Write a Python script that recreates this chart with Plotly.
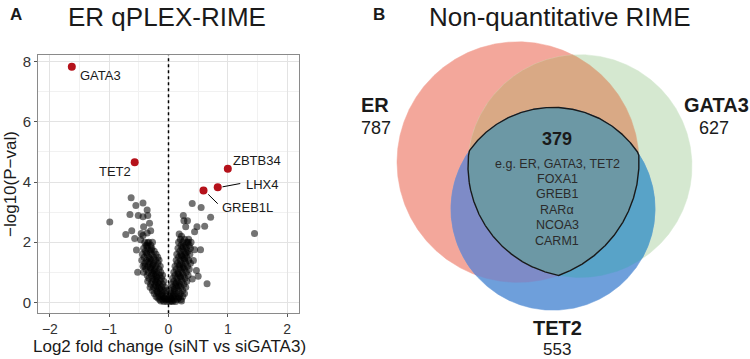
import math
import plotly.graph_objects as go

# ---------------- Panel A data: volcano plot ----------------
hit_genes = ["GATA3", "TET2", "ZBTB34", "LHX4", "GREB1L"]
hit_lfc = [-1.63, -0.57, 1.00, 0.83, 0.59]
hit_logp = [7.83, 4.66, 4.44, 3.83, 3.72]

other_points = [
    # outer left
    (-0.63, 3.48), (-0.55, 3.22), (-0.43, 3.30), (-0.36, 3.07), (-0.99, 2.67), (-0.65, 2.92),
    (-0.51, 2.89), (-0.43, 2.85), (-0.35, 2.89), (-0.32, 2.63), (-0.42, 2.51), (-0.30, 2.38),
    (-0.36, 2.31), (-0.62, 2.38), (-0.72, 2.26), (-0.46, 2.29), (-0.43, 2.22), (-0.57, 2.12),
    (-0.47, 2.08), (-0.35, 1.98), (-0.36, 1.89), (-0.54, 1.74), (-0.52, 1.00), (-0.40, 1.20),
    # outer right
    (0.40, 3.29), (0.55, 3.15), (0.71, 2.83), (0.25, 2.89), (0.32, 2.71), (0.26, 2.71),
    (0.61, 2.53), (0.48, 2.51), (1.45, 2.29), (0.29, 2.51), (0.18, 2.27), (0.44, 2.35),
    (0.44, 1.75), (0.54, 1.75), (0.47, 1.06), (0.50, 0.87), (0.65, 0.62), (0.40, 0.78),
    (0.42, 1.39), (0.22, 2.20), (0.33, 2.00),
    # dense left arm
    (-0.40, 2.0), (-0.33, 2.0), (-0.27, 2.0), (-0.38, 1.9), (-0.30, 1.9),
    (-0.42, 1.8), (-0.35, 1.8), (-0.28, 1.8), (-0.39, 1.7), (-0.31, 1.7), (-0.24, 1.7),
    (-0.44, 1.6), (-0.36, 1.6), (-0.28, 1.6), (-0.21, 1.6),
    (-0.41, 1.5), (-0.33, 1.5), (-0.25, 1.5), (-0.18, 1.5),
    (-0.45, 1.4), (-0.37, 1.4), (-0.29, 1.4), (-0.22, 1.4), (-0.16, 1.4),
    (-0.40, 1.3), (-0.32, 1.3), (-0.25, 1.3), (-0.18, 1.3),
    (-0.43, 1.2), (-0.35, 1.2), (-0.28, 1.2), (-0.21, 1.2), (-0.14, 1.2),
    (-0.38, 1.1), (-0.30, 1.1), (-0.23, 1.1), (-0.16, 1.1),
    (-0.42, 1.0), (-0.34, 1.0), (-0.27, 1.0), (-0.20, 1.0), (-0.13, 1.0),
    (-0.36, 0.9), (-0.29, 0.9), (-0.22, 0.9), (-0.15, 0.9), (-0.10, 0.9),
    (-0.33, 0.8), (-0.26, 0.8), (-0.19, 0.8), (-0.12, 0.8),
    (-0.35, 0.7), (-0.28, 0.7), (-0.21, 0.7), (-0.14, 0.7), (-0.08, 0.7),
    (-0.30, 0.6), (-0.23, 0.6), (-0.16, 0.6), (-0.10, 0.6),
    (-0.31, 0.5), (-0.25, 0.5), (-0.18, 0.5), (-0.12, 0.5), (-0.06, 0.5),
    (-0.27, 0.4), (-0.20, 0.4), (-0.14, 0.4), (-0.08, 0.4), (-0.03, 0.4),
    (-0.24, 0.3), (-0.17, 0.3), (-0.11, 0.3), (-0.05, 0.3),
    (-0.21, 0.2), (-0.15, 0.2), (-0.09, 0.2), (-0.04, 0.2),
    (-0.15, 0.1), (-0.10, 0.1), (-0.05, 0.1), (-0.02, 0.1),
    (-0.08, 0.03), (-0.03, 0.03),
    (-0.37, 1.65), (-0.31, 1.45), (-0.26, 1.25), (-0.24, 1.05), (-0.20, 0.85),
    (-0.18, 0.65), (-0.15, 0.45), (-0.12, 0.25), (-0.07, 0.15), (-0.29, 1.75),
    (-0.34, 1.35), (-0.31, 1.15), (-0.25, 0.95), (-0.23, 0.75), (-0.21, 0.55),
    (-0.19, 0.35), (-0.13, 0.05), (-0.18, 0.15),
    # dense right arm
    (0.20, 2.1), (0.27, 2.1), (0.34, 2.1),
    (0.17, 2.0), (0.24, 2.0), (0.31, 2.0), (0.38, 2.0),
    (0.21, 1.9), (0.28, 1.9), (0.35, 1.9),
    (0.16, 1.8), (0.23, 1.8), (0.30, 1.8), (0.37, 1.8),
    (0.19, 1.7), (0.26, 1.7), (0.33, 1.7),
    (0.14, 1.6), (0.21, 1.6), (0.28, 1.6), (0.36, 1.6),
    (0.17, 1.5), (0.24, 1.5), (0.31, 1.5),
    (0.13, 1.4), (0.20, 1.4), (0.27, 1.4), (0.34, 1.4),
    (0.15, 1.3), (0.22, 1.3), (0.29, 1.3), (0.37, 1.3),
    (0.11, 1.2), (0.18, 1.2), (0.25, 1.2), (0.32, 1.2),
    (0.13, 1.1), (0.20, 1.1), (0.27, 1.1), (0.35, 1.1),
    (0.09, 1.0), (0.16, 1.0), (0.23, 1.0), (0.30, 1.0),
    (0.11, 0.9), (0.18, 0.9), (0.25, 0.9), (0.33, 0.9),
    (0.07, 0.8), (0.14, 0.8), (0.21, 0.8), (0.28, 0.8),
    (0.09, 0.7), (0.16, 0.7), (0.23, 0.7), (0.31, 0.7),
    (0.05, 0.6), (0.12, 0.6), (0.19, 0.6), (0.26, 0.6),
    (0.07, 0.5), (0.14, 0.5), (0.21, 0.5), (0.29, 0.5),
    (0.04, 0.4), (0.10, 0.4), (0.17, 0.4), (0.24, 0.4),
    (0.03, 0.3), (0.08, 0.3), (0.14, 0.3), (0.20, 0.3), (0.27, 0.3),
    (0.02, 0.2), (0.07, 0.2), (0.12, 0.2), (0.18, 0.2), (0.24, 0.2),
    (0.01, 0.1), (0.05, 0.1), (0.10, 0.1), (0.15, 0.1), (0.21, 0.1),
    (0.02, 0.03), (0.07, 0.03), (0.12, 0.03),
    (0.25, 1.85), (0.22, 1.55), (0.19, 1.25), (0.16, 0.95), (0.13, 0.65),
    (0.10, 0.45), (0.17, 0.55), (0.20, 0.85), (0.24, 1.15), (0.27, 1.45),
    (0.30, 1.65), (0.04, 0.15), (0.09, 0.25), (0.17, 0.15), (0.22, 0.05), (0.05, 0.05),
]
other_lfc = [p[0] for p in other_points]
other_logp = [p[1] for p in other_points]

x_ticks = [-2, -1, 0, 1, 2]
x_ticktext = ["\u22122", "\u22121", "0", "1", "2"]
y_ticks = [0, 2, 4, 6, 8]

# ---------------- Panel B data: Venn ----------------
set_names = ["ER", "GATA3", "TET2"]
set_sizes = [787, 627, 553]
shared_count = 379
shared_examples = ["e.g. ER, GATA3, TET2", "FOXA1", "GREB1", "RAR\u03b1", "NCOA3", "CARM1"]

# Venn geometry (pixel units on a 1:1 helper axis)
circles = {
    "ER": (518, 161, 121),
    "GATA3": (580, 165, 112),
    "TET2": (553, 208, 102),
}
region_colors = [
    (("ER",), "#f3a79b"),
    (("GATA3",), "#d5e8d0"),
    (("ER", "GATA3"), "#d9a985"),
    (("TET2",), "#6e9fdb"),
    (("ER", "TET2"), "#7e8bc7"),
    (("GATA3", "TET2"), "#58a3c8"),
    (("ER", "GATA3", "TET2"), "#6c98a5"),
]

W, H = 750, 359
FONT = "Liberation Sans, Arial, sans-serif"


def intersection_polygon(names, n=1440):
    pts = []
    for nm in names:
        cx, cy, r = circles[nm]
        for i in range(n):
            t = 2 * math.pi * i / n
            px, py = cx + r * math.cos(t), cy + r * math.sin(t)
            ok = True
            for other in names:
                if other == nm:
                    continue
                ox, oy, orr = circles[other]
                if math.hypot(px - ox, py - oy) > orr + 1e-6:
                    ok = False
                    break
            if ok:
                pts.append((px, py))
    mx = sum(p[0] for p in pts) / len(pts)
    my = sum(p[1] for p in pts) / len(pts)
    pts.sort(key=lambda p: math.atan2(p[1] - my, p[0] - mx))
    pts.append(pts[0])
    return [p[0] for p in pts], [p[1] for p in pts]


fig = go.Figure()

# volcano
fig.add_trace(go.Scatter(
    x=other_lfc, y=other_logp, mode="markers",
    marker=dict(size=7, color="rgba(0,0,0,0.55)", line=dict(width=0)),
    xaxis="x", yaxis="y", hoverinfo="skip", showlegend=False,
))
fig.add_trace(go.Scatter(
    x=hit_lfc, y=hit_logp, mode="markers", text=hit_genes,
    marker=dict(size=8, color="#b5121b", line=dict(width=0)),
    xaxis="x", yaxis="y", showlegend=False,
))

# venn regions
for names, col in region_colors:
    xs, ys = intersection_polygon(names)
    last = len(names) == 3
    fig.add_trace(go.Scatter(
        x=xs, y=ys, mode="lines", fill="toself", fillcolor=col,
        line=dict(color="#1a1a1a" if last else col, width=1.4 if last else 0.5),
        xaxis="x2", yaxis="y2", hoverinfo="skip", showlegend=False,
    ))

x2_left = 0.46 * W

fig.update_layout(
    width=W, height=H, margin=dict(l=0, r=0, t=0, b=0),
    paper_bgcolor="white", plot_bgcolor="white",
    font=dict(family=FONT, color="#1a1a1a"),
    xaxis=dict(
        domain=[38 / W, 299 / W], range=[-2.2, 2.2],
        tickvals=x_ticks, ticktext=x_ticktext,
        showgrid=True, gridcolor="#e3e3e3", gridwidth=1,
        minor=dict(tickvals=[-1.5, -0.5, 0.5, 1.5], showgrid=True, gridcolor="#f1f1f1"),
        zeroline=False, showline=True, mirror=True, linecolor="#8a8a8a", linewidth=1,
        ticks="outside", ticklen=3, tickcolor="#555", tickfont=dict(size=14, color="#333"),
        anchor="y",
    ),
    yaxis=dict(
        domain=[(H - 313) / H, (H - 53) / H], range=[-0.36, 8.23],
        tickvals=y_ticks,
        showgrid=True, gridcolor="#e3e3e3", gridwidth=1,
        minor=dict(tickvals=[1, 3, 5, 7], showgrid=True, gridcolor="#f1f1f1"),
        zeroline=False, showline=True, mirror=True, linecolor="#8a8a8a", linewidth=1,
        ticks="outside", ticklen=3, tickcolor="#555", tickfont=dict(size=15, color="#333"),
        anchor="x",
    ),
    xaxis2=dict(domain=[0.46, 1.0], range=[x2_left, W], visible=False, anchor="y2", fixedrange=True),
    yaxis2=dict(domain=[0, 1], range=[H, 0], visible=False, anchor="x2", fixedrange=True),
)

# zero line (dotted)
fig.add_shape(type="line", xref="x", yref="y", x0=0, x1=0, y0=-0.36, y1=8.23,
              line=dict(color="black", width=1.5, dash="dot"))
# connector lines
fig.add_shape(type="line", xref="x", yref="y", x0=0.91, y0=3.84, x1=1.21, y1=3.95,
              line=dict(color="black", width=1))
fig.add_shape(type="line", xref="x", yref="y", x0=0.67, y0=3.59, x1=0.83, y1=3.28,
              line=dict(color="black", width=1))

# gene labels
lab = dict(xref="x", yref="y", showarrow=False, font=dict(size=13, color="#1a1a1a"))
fig.add_annotation(text="GATA3", x=-1.53, y=7.54, xanchor="left", **lab)
fig.add_annotation(text="TET2", x=-0.60, y=4.34, xanchor="right", **lab)
fig.add_annotation(text="ZBTB34", x=1.06, y=4.72, xanchor="left", **lab)
fig.add_annotation(text="LHX4", x=1.28, y=3.92, xanchor="left", **lab)
fig.add_annotation(text="GREB1L", x=0.87, y=3.15, xanchor="left", **lab)


def ptext(text, px, py, size, bold=False, color="#1a1a1a", angle=0):
    if bold:
        text = "<b>" + text + "</b>"
    fig.add_annotation(text=text, xref="paper", yref="paper", x=px / W, y=1 - py / H,
                       xanchor="center", yanchor="middle", showarrow=False, textangle=angle,
                       font=dict(size=size, color=color, family=FONT))


# axis titles
ptext("Log2 fold change (siNT vs siGATA3)", 169, 346, 17)
ptext("\u2212log10(P\u2212val)", 11, 183, 17, angle=-90)

# panel titles
ptext("A", 16, 13, 17, bold=True)
ptext("ER qPLEX-RIME", 167, 15, 26)
ptext("B", 379, 13, 17, bold=True)
ptext("Non-quantitative RIME", 560, 15, 26)

# venn labels
ptext(set_names[0], 375, 104, 20, bold=True)
ptext(str(set_sizes[0]), 376, 127, 18)
ptext(set_names[1], 716, 104, 20, bold=True)
ptext(str(set_sizes[1]), 714, 127, 18)
ptext(set_names[2], 557, 328, 20, bold=True)
ptext(str(set_sizes[2]), 557, 349, 17)

ptext(str(shared_count), 557, 138, 18, bold=True)
ex_y = [163, 178, 193.5, 209, 224.5, 240]
for t, yy in zip(shared_examples, ex_y):
    ptext(t, 557, yy, 12.5, color="#2b2b2b")

fig.write_html(
    "out.html",
    config={"displayModeBar": False},
    post_script="document.body.style.margin='0';document.body.style.overflow='hidden';",
)
